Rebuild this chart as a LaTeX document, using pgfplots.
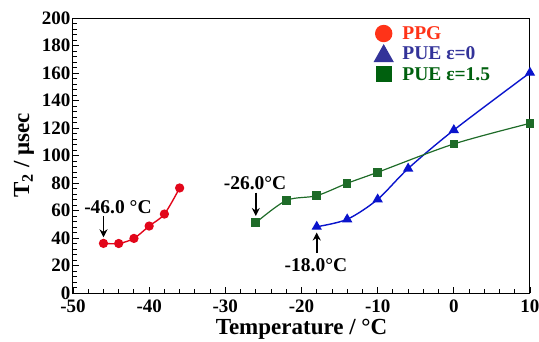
\documentclass[border=0pt]{standalone}
\usepackage{pgfplots}
\pgfplotsset{compat=1.18}
\usetikzlibrary{arrows.meta}
\usepackage{fontspec}
\setmainfont{Liberation Serif}
\definecolor{pred}{HTML}{E2061A}
\definecolor{pblue}{HTML}{0A14CC}
\definecolor{pgreen}{HTML}{1E6B28}
\definecolor{lred}{HTML}{FF3318}
\definecolor{lblue}{HTML}{333399}
\definecolor{lgreen}{HTML}{00600E}
\begin{document}
\begin{tikzpicture}
\useasboundingbox (-73pt,-48pt) rectangle (466pt,293pt);
\begin{axis}[
  scale only axis,
  width=457pt, height=275pt,
  xmin=-50, xmax=10, ymin=0, ymax=200,
  xtick={-50,-40,...,10}, ytick={0,20,...,200},
  minor x tick num=4, minor y tick num=4,
  tick align=inside,
  xtick pos=bottom, ytick pos=left,
  major tick length=6.5pt, minor tick length=3.8pt,
  tick style={black, line width=0.9pt},
  axis line style={line width=1pt},
  ticklabel style={font=\fontsize{19}{19}\selectfont\bfseries},
  xticklabel style={yshift=-3pt},
  yticklabel style={xshift=1pt},
  /pgf/number format/assume math mode=true,
  xlabel={\fontsize{23}{23}\selectfont\bfseries Temperature / °C},
  ylabel={\fontsize{23}{23}\selectfont\bfseries T$_{\mathbf 2}$ / μsec},
  xlabel style={yshift=0pt},
  ylabel style={yshift=1pt},
  legend style={draw=none, fill=none, at={(axis cs:-10.9,197)}, anchor=north west,
    font=\fontsize{19.5}{20}\selectfont\bfseries, row sep=2pt,
    /tikz/every odd column/.append style={column sep=7pt}},
  legend cell align=left,
]
\addplot[pred, line width=1.4pt, smooth, mark=*, mark size=3.9pt, mark options={fill=pred, draw=pred},
  legend image code/.code={\fill[lred] (0.3cm,0cm) circle (8pt);}]
  coordinates {(-46,36.1) (-44,36.0) (-42,39.7) (-40,48.7) (-38,57.4) (-36,76.4)};
\addlegendentry{\textcolor{lred}{PPG}}
\addplot[pblue, line width=1.4pt, smooth, mark=triangle*, mark size=4.6pt, mark options={fill=pblue, draw=pblue},
  legend image code/.code={\fill[lblue] (0.3cm,0cm)++(0,8.5pt) -- ++(-9pt,-16pt) -- ++(18pt,0) -- cycle;}]
  coordinates {(-18,48.2) (-14,53.6) (-10,68.1) (-6,90.5) (0,118.5) (10,160.2)};
\addlegendentry{\textcolor{lblue}{PUE ε=0}}
\addplot[pgreen, line width=1.2pt, smooth, mark=square*, mark size=3.7pt, mark options={fill=pgreen, draw=pgreen},
  legend image code/.code={\fill[lgreen] (0.3cm,0cm)++(-7.5pt,-7.5pt) rectangle ++(15pt,15pt);}]
  coordinates {(-26,51.1) (-22,67.3) (-18,70.8) (-14,79.8) (-10,87.8) (0,108.4) (10,123.4)};
\addlegendentry{\textcolor{lgreen}{PUE ε=1.5}}
\tikzset{annarrow/.style={-{Stealth[length=8pt,width=8pt]}, line width=1.8pt}}
\draw[annarrow] (axis cs:-46,56) -- (axis cs:-46,40.5);
\node[font=\fontsize{19.5}{19.5}\selectfont\bfseries] at (axis cs:-44.1,62.5) {-46.0 °C};
\draw[annarrow] (axis cs:-26,73) -- (axis cs:-26,56);
\node[font=\fontsize{19.5}{19.5}\selectfont\bfseries] at (axis cs:-26.1,80) {-26.0°C};
\draw[annarrow] (axis cs:-18,29) -- (axis cs:-18,44);
\node[font=\fontsize{19.5}{19.5}\selectfont\bfseries] at (axis cs:-18.1,20.4) {-18.0°C};
\end{axis}
\end{tikzpicture}
\end{document}
